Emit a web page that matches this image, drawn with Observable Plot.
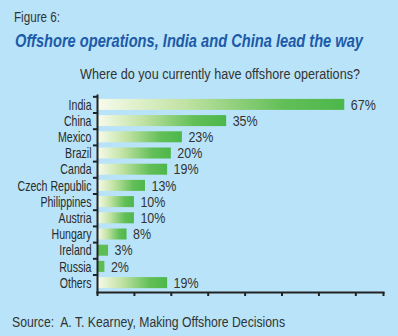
<!DOCTYPE html>
<html>
<head>
<meta charset="utf-8">
<script src="https://cdn.jsdelivr.net/npm/d3@7"></script>
<script src="https://cdn.jsdelivr.net/npm/@observablehq/plot@0.6"></script>
<style>
  html, body { margin: 0; padding: 0; }
  body { width: 398px; height: 336px; background: #b8e3f8; position: relative; overflow: hidden;
         font-family: "Liberation Sans", Arial, sans-serif; }
  .t { position: absolute; white-space: nowrap; display: inline-block; transform-origin: 0 50%; }
  #fig { left: 14px; top: 9px; font-size: 14px; line-height: 16px; color: #333; }
  #title { left: 15px; top: 30px; font-size: 18.5px; line-height: 22px; font-weight: bold; font-style: italic; color: #1d5aa8; }
  #sub { left: 80px; top: 65px; font-size: 14px; line-height: 18px; color: #333; }
  #src { left: 12px; top: 313px; font-size: 14px; line-height: 18px; color: #333; }
  #chart { position: absolute; left: 0; top: 86px; }
  #chart svg { display: block; }
</style>
</head>
<body>
<div class="t" id="fig" data-w="46">Figure 6:</div>
<div class="t" id="title" data-w="348">Offshore operations, India and China lead the way</div>
<div class="t" id="sub" data-w="280">Where do you currently have offshore operations?</div>
<div id="chart"></div>
<div class="t" id="src" data-w="273">Source:&nbsp; A. T. Kearney, Making Offshore Decisions</div>
<script>
const countries = ["India", "China", "Mexico", "Brazil", "Canda", "Czech Republic", "Philippines", "Austria", "Hungary", "Ireland", "Russia", "Others"];
const shares = [67, 35, 23, 20, 19, 13, 10, 10, 8, 3, 2, 19];
const xTicks = [0, 10, 20, 30, 40, 50, 60, 70, 77.5];

const data = countries.map((c, i) => ({country: c, value: shares[i]}));

const height = 215, marginTop = 9, marginBottom = 9;
const paddingInner = 0.32, paddingOuter = 0.24;
const step = (height - marginTop - marginBottom) / (countries.length - paddingInner + 2 * paddingOuter);

const defs = () => {
  const d = d3.create("svg:defs");
  const g = d.append("linearGradient").attr("id", "barGrad").attr("x1", "0").attr("x2", "1").attr("y1", "0").attr("y2", "0");
  g.append("stop").attr("offset", "0").attr("stop-color", "#f8fbec");
  g.append("stop").attr("offset", "0.35").attr("stop-color", "#c2e3a4");
  g.append("stop").attr("offset", "0.75").attr("stop-color", "#63bf58");
  g.append("stop").attr("offset", "1").attr("stop-color", "#4cb74a");
  return d.node();
};

const chart = Plot.plot({
  width: 398,
  height,
  marginTop,
  marginBottom,
  marginLeft: 97,
  marginRight: 15,
  style: {background: "transparent", fontFamily: '"Liberation Sans", Arial, sans-serif', fontSize: "14px", color: "#222"},
  x: {domain: [0, 77.5], axis: null},
  y: {domain: countries, paddingInner, paddingOuter, round: false, axis: null},
  marks: [
    defs,
    Plot.barX(data.filter(d => d.value >= 5), {x: "value", y: "country", fill: "url(#barGrad)"}),
    Plot.barX(data.filter(d => d.value < 5), {x: "value", y: "country", fill: "#5cbd52"}),
    Plot.text(data, {x: "value", y: "country", text: d => d.value + "%", dx: 6, textAnchor: "start", fill: "#333", fontSize: 14.5}),
    Plot.axisY({tickSize: 0, tickPadding: 6, label: null, fill: "#2a2a2a", fontSize: 14.5}),
    Plot.ruleY(countries, {y: d => d, x1: -1.1, x2: 0, dy: -step / 2, stroke: "#222", strokeWidth: 2}),
    Plot.axisX({ticks: xTicks, tickFormat: () => "", tickSize: 4, label: null, stroke: "#222", strokeWidth: 2}),
    Plot.frame({anchor: "left", stroke: "#222", strokeWidth: 2}),
    Plot.frame({anchor: "bottom", stroke: "#222", strokeWidth: 2})
  ]
});
document.getElementById("chart").appendChild(chart);

// condense text to match the narrow typeface of the original
document.querySelectorAll(".t").forEach(el => {
  const w = el.getBoundingClientRect().width;
  el.style.transform = `scaleX(${(+el.dataset.w / w).toFixed(4)})`;
});
const texts = Array.from(chart.querySelectorAll("text")).filter(t => t.textContent.trim() !== "");
const ref = (s, w) => { const t = texts.find(t => t.textContent === s); return t ? w / t.getComputedTextLength() : 0.82; };
const fY = ref("Czech Republic", 74), fV = ref("67%", 25);
texts.forEach(t => {
  const f = t.textContent.endsWith("%") ? fV : fY;
  t.setAttribute("textLength", (t.getComputedTextLength() * f).toFixed(2));
  t.setAttribute("lengthAdjust", "spacingAndGlyphs");
});
</script>
</body>
</html>
